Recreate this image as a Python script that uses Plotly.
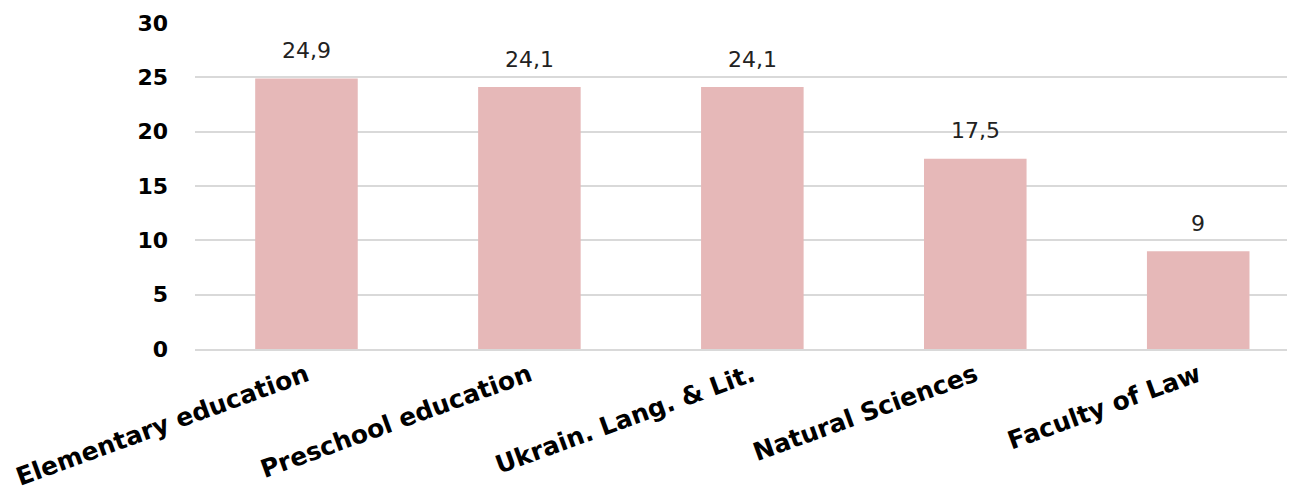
import plotly.graph_objects as go

categories = ["Elementary education", "Preschool education", "Ukrain. Lang. & Lit.",
              "Natural Sciences", "Faculty of Law"]
values = [24.9, 24.1, 24.1, 17.5, 9]
labels = ["24,9", "24,1", "24,1", "17,5", "9"]
y_ticks = [0, 5, 10, 15, 20, 25, 30]

fig = go.Figure(go.Bar(
    x=categories, y=values,
    marker=dict(color="#E6B8B8", line=dict(width=0)),
    width=0.46,
))
for c, v, t in zip(categories, values, labels):
    fig.add_annotation(x=c, y=v, text=t, showarrow=False, yanchor="middle", yshift=28,
                       font=dict(family="DejaVu Sans", size=22, color="#222222"))
fig.update_layout(
    width=1295, height=490,
    margin=dict(l=187, r=0, t=15, b=149, autoexpand=False),
    plot_bgcolor="white", paper_bgcolor="white",
    showlegend=False,
    font=dict(family="DejaVu Sans", color="black"),
)
fig.update_xaxes(
    range=[-0.5, 4.47],
    tickangle=-20, tickfont=dict(family="DejaVu Sans", size=25, color="black", weight="bold"),
    showline=True, linecolor="#D9D9D9", linewidth=2, ticks="", showgrid=False, automargin=False,
)
fig.update_yaxes(
    range=[0, 30], tickvals=y_ticks, showgrid=True, gridcolor="#D9D9D9", gridwidth=2,
    tickfont=dict(family="DejaVu Sans", size=22, color="black", weight="bold"),
    ticklabelstandoff=26, zeroline=False, showline=False, automargin=False,
)
fig.write_html("out.html")
